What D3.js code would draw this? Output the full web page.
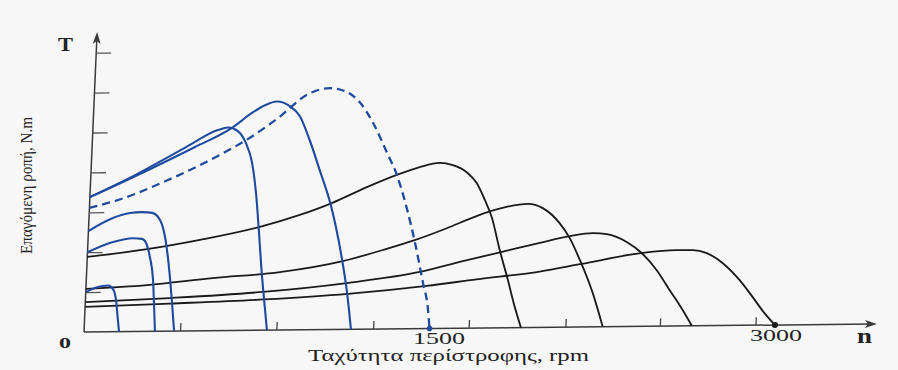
<!DOCTYPE html>
<html>
<head>
<meta charset="utf-8">
<script src="https://cdn.jsdelivr.net/npm/d3@7"></script>
<style>
  html, body { margin: 0; padding: 0; background: #f7f7f7; }
  svg { display: block; }
  text { font-family: "Liberation Serif", "DejaVu Serif", serif; fill: #222; }
</style>
</head>
<body>
<svg id="chart" width="898" height="370"></svg>
<script>
// ---- data (rpm, induced torque in tick units) ----
const xTickValues = [417, 835, 1255, 1670, 2090, 2500, 2915];
const yTickValues = [1, 2, 3, 4, 5, 6, 7];
const xLabels = [{v: 0, t: "0"}, {v: 1500, t: "1500"}, {v: 3000, t: "3000"}];

const blue1 = [[0,1.00],[48,1.12],[95,1.16],[118,1.07],[133,0.79],[142,0.42],[152,0]];
const blue2 = [[0,2.00],[109,2.25],[195,2.34],[234,2.32],[257,2.16],[272,1.86],[290,1.29],[299,0.66],[308,0]];
const blue3 = [[0,2.53],[104,2.85],[177,2.97],[229,2.99],[273,2.97],[309,2.79],[334,2.36],[350,1.86],[377,0.70],[391,0]];
const blue4 = [[0,3.38],[192,3.92],[403,4.59],[543,5.03],[586,5.09],[630,5.00],[667,4.70],[697,4.22],[720,3.47],[740,2.51],[762,1.38],[781,0.56],[794,0]];
const blue5 = [[0,3.38],[264,4.09],[447,4.61],[604,5.08],[688,5.45],[743,5.64],[794,5.73],[851,5.61],[896,5.36],[944,4.75],[993,4.00],[1048,3.12],[1100,1.94],[1133,0.99],[1159,0]];
const blueDashed = [[0,3.11],[122,3.30],[336,3.79],[548,4.38],[684,4.83],[801,5.31],[935,5.93],[1021,6.05],[1096,5.95],[1154,5.69],[1214,5.19],[1281,4.43],[1329,3.86],[1378,3.03],[1420,2.17],[1462,1.17],[1489,0.51],[1500,0]];
const blackA = [[0,1.88],[258,2.06],[486,2.28],[744,2.59],[915,2.88],[1052,3.17],[1201,3.56],[1329,3.86],[1427,4.05],[1513,4.15],[1570,4.09],[1632,3.91],[1678,3.63],[1716,3.21],[1749,2.78],[1790,1.95],[1831,1.20],[1866,0.52],[1897,0]];
const blackB = [[0,1.08],[265,1.16],[550,1.32],[839,1.45],[1110,1.71],[1282,1.98],[1419,2.22],[1556,2.51],[1667,2.77],[1739,2.92],[1812,3.03],[1903,3.10],[1969,2.99],[2045,2.61],[2092,2.23],[2140,1.68],[2202,0.85],[2252,0]];
const blackC = [[0,0.75],[367,0.83],[770,0.96],[1132,1.16],[1447,1.42],[1632,1.68],[1805,1.91],[1963,2.12],[2092,2.28],[2191,2.35],[2252,2.32],[2340,2.12],[2407,1.84],[2475,1.41],[2536,0.90],[2596,0.40],[2639,0]];
const blackD = [[0,0.63],[368,0.69],[775,0.77],[1139,0.89],[1480,1.07],[1695,1.22],[1968,1.40],[2148,1.58],[2411,1.84],[2558,1.90],[2628,1.90],[2690,1.82],[2760,1.57],[2837,1.14],[2897,0.71],[2952,0.30],[3000,0]];

const blueSolid = [blue1, blue2, blue3, blue4, blue5];
const blackCurves = [blackA, blackB, blackC, blackD];

// ---- layout ----
const svg = d3.select("#chart");
const H = 297;             // axis height in px
const k1 = 13 / 297;       // slant of the vertical axis
const k2 = 7 / 691;        // slant of the horizontal axis
const x = d3.scaleLinear().domain([0, 3000]).range([0, 691]);
const y = d3.scaleLinear().domain([0, H / 39.9]).range([H, 0]);
const xMax = 3425;

const g = svg.append("g")
  .attr("transform", `matrix(1,${-k2},${-k1},1,${84 + H * k1},${332 - H})`);

const blue = "#1f4a9e";
const ink = "#1a1a1a";
const axisCol = "#3a3a3a";

// axes lines
g.append("line").attr("x1", x(0)).attr("y1", y(0)).attr("x2", x(xMax)).attr("y2", y(0))
  .attr("stroke", axisCol).attr("stroke-width", 1.5);
g.append("line").attr("x1", x(0)).attr("y1", y(0)).attr("x2", x(0)).attr("y2", y.range()[1] + 2)
  .attr("stroke", axisCol).attr("stroke-width", 1.5);
// arrowheads
const xa = x(xMax) + 4, ya = y(0);
g.append("path").attr("d", `M${xa},${ya} L${xa - 12},${ya - 4} L${xa - 9},${ya} L${xa - 12},${ya + 4} Z`).attr("fill", axisCol);
const yt = y.range()[1] - 3;
g.append("path").attr("d", `M0,${yt} L-4,${yt + 12} L0,${yt + 9} L4,${yt + 12} Z`).attr("fill", axisCol);

// ticks
const xAxis = d3.axisBottom(x).tickValues(xTickValues).tickSizeInner(-8).tickSizeOuter(0).tickFormat("");
const gx = g.append("g").attr("transform", `translate(0,${y(0)})`).call(xAxis);
gx.select(".domain").remove();
gx.selectAll(".tick line").attr("stroke", "#444").attr("stroke-width", 1.3);

const yAxis = d3.axisRight(y).tickValues(yTickValues).tickSizeInner(15).tickSizeOuter(0).tickFormat("");
const gy = g.append("g").call(yAxis);
gy.select(".domain").remove();
gy.selectAll(".tick line").attr("stroke", "#555").attr("stroke-width", 1.3);

// curves
const line = d3.line().x(d => x(d[0])).y(d => y(d[1])).curve(d3.curveMonotoneX);
g.selectAll(".blk").data(blackCurves).join("path").attr("class", "blk")
  .attr("d", line).attr("fill", "none").attr("stroke", ink).attr("stroke-width", 1.8);
g.selectAll(".bl").data(blueSolid).join("path").attr("class", "bl")
  .attr("d", line).attr("fill", "none").attr("stroke", blue).attr("stroke-width", 2.1);
g.append("path").datum(blueDashed).attr("d", line).attr("fill", "none")
  .attr("stroke", blue).attr("stroke-width", 2.3).attr("stroke-dasharray", "8,5");

// end dots
g.append("circle").attr("cx", x(1500)).attr("cy", y(0)).attr("r", 2.8).attr("fill", blue);
g.append("circle").attr("cx", x(3000)).attr("cy", y(0)).attr("r", 3).attr("fill", ink);

// texts (screen coords)
function label(t, px, py, size, len, opts = {}) {
  const el = svg.append("text").attr("x", px).attr("y", py).attr("font-size", size).text(t);
  if (len) el.attr("textLength", len).attr("lengthAdjust", "spacingAndGlyphs");
  if (opts.bold) el.attr("font-weight", "bold");
  if (opts.anchor) el.attr("text-anchor", opts.anchor);
  return el;
}
label("T", 58, 51, 19, 15, {bold: true});
label(xLabels[0].t, 59, 348, 15, 12, {bold: true});
label(xLabels[1].t, 413, 344, 16, 52);
label(xLabels[2].t, 750, 341, 17, 52);
label("n", 857, 343, 22, 15, {bold: true});
label("Ταχύτητα περίστροφης, rpm", 308, 361, 17, 281);
svg.append("text").attr("transform", "translate(32,254) rotate(-90)")
  .attr("font-size", 16).attr("textLength", 137).attr("lengthAdjust", "spacingAndGlyphs")
  .text("Επαγόμενη ροπή, N.m");
</script>
</body>
</html>
